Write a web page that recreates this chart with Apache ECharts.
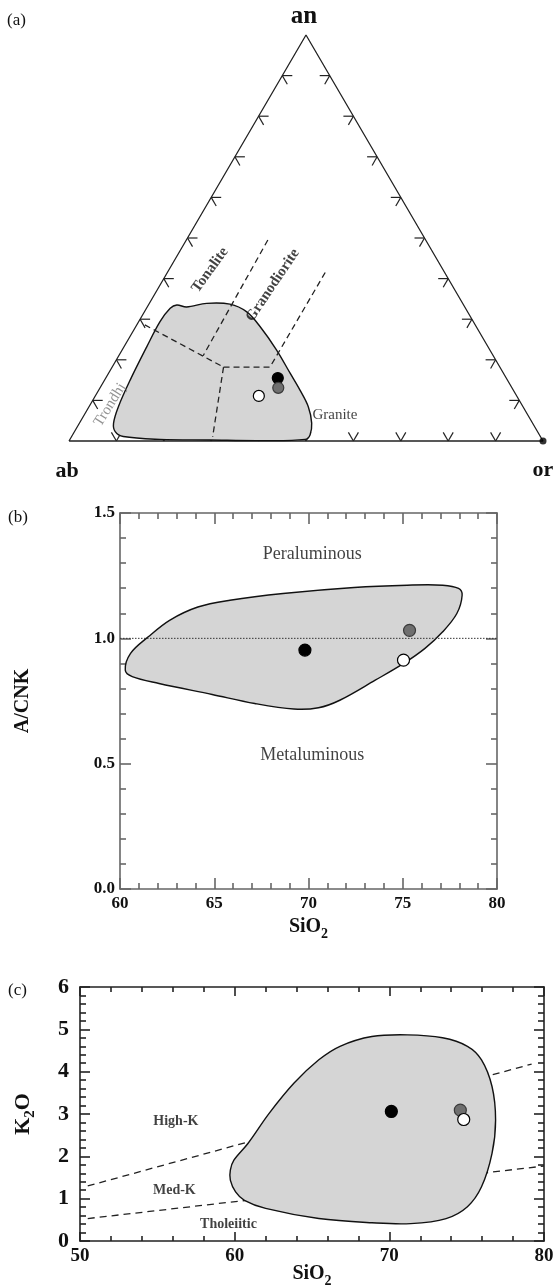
<!DOCTYPE html>
<html>
<head>
<meta charset="utf-8">
<script src="https://cdn.jsdelivr.net/npm/echarts@6/dist/echarts.min.js"></script>
<style>
  html, body { margin: 0; padding: 0; background: #fff; }
  #chart { width: 555px; height: 1285px; }
</style>
</head>
<body>
<div id="chart"></div>
<script>
const SERIF = '"Liberation Serif", "DejaVu Serif", serif';

// ---------- (a) An–Ab–Or ternary, points given as [an, or] in % (ab = 100 - an - or)
const ternaryTicks = [10, 20, 30, 40, 50, 60, 70, 80, 90];
const triangleA = [[0, 0], [0, 100], [100, 0], [0, 0]];
const fieldA = [
  [32.7, 5.0], [33.5, 6.0], [33.0, 8.3], [33.9, 12.1], [33.7, 17.1], [31.8, 21.6],
  [28.2, 26.2], [22.4, 32.6], [16.7, 38.3], [12.6, 42.4], [8.4, 46.3], [4.4, 49.0],
  [1.5, 50.1], [0.4, 49.6], [0.1, 40.3], [0.25, 29.6], [0.4, 19.0], [1.1, 10.9],
  [2.3, 8.6], [4.4, 7.2], [8.4, 6.2], [15.0, 5.4], [23.2, 4.8], [29.4, 4.5]
];
const trondhjemiteLine = [[28.6, 1.7], [18.2, 23.5]];
const tonaliteLine = [[49.5, 17.2], [21.0, 17.8]];
const graniteLine = [[18.2, 23.5], [18.2, 33.3], [42.0, 33.3]];
const lowerLine = [[18.2, 23.5], [1.0, 29.8]];
const samplesA = [[15.5, 36.3], [13.1, 37.6], [11.1, 34.5]];
const orVertex = [[0, 100]];
const fieldLabelsA = [
  { text: 'Tonalite', an: 42.1, or: 8.7, rotate: 54, bold: true },
  { text: 'Granodiorite', an: 38.4, or: 23.8, rotate: 56, bold: true },
  { text: 'Trondhj', an: 8.9, or: 4.2, rotate: 58, bold: false, color: '#777' },
  { text: 'Granite', an: 6.4, or: 52.9, rotate: 0, bold: false }
];

// ---------- (b) A/CNK vs SiO2
const fieldB = [
  [60.28, 0.873], [60.56, 0.94], [61.5, 1.006], [62.63, 1.072], [64.13, 1.125],
  [65.83, 1.152], [68.65, 1.179], [72.42, 1.203], [75.24, 1.212], [77.12, 1.212],
  [77.96, 1.199], [78.15, 1.172], [77.87, 1.099], [77.12, 1.026], [76.18, 0.96],
  [75.05, 0.9], [73.54, 0.833], [71.66, 0.753], [70.53, 0.723], [69.22, 0.718],
  [67.15, 0.74], [64.89, 0.776], [62.07, 0.82], [60.65, 0.847]
];
const aluminaLine = [[60, 1.0], [80, 1.0]];
const samplesB = [[69.81, 0.953], [75.36, 1.032], [75.04, 0.913]];
const regionLabelsB = [['Peraluminous', 70.2, 1.335], ['Metaluminous', 70.2, 0.534]];

// ---------- (c) K2O vs SiO2
const fieldC = [
  [59.72, 1.675], [59.95, 1.91], [60.87, 2.31], [62.24, 3.02], [63.84, 3.73],
  [65.44, 4.28], [66.81, 4.6], [68.87, 4.83], [71.16, 4.87], [73.44, 4.8],
  [75.05, 4.6], [75.96, 4.28], [76.64, 3.65], [76.87, 2.86], [76.64, 2.07],
  [75.96, 1.28], [75.05, 0.81], [73.67, 0.53], [71.38, 0.41], [68.87, 0.43],
  [65.44, 0.53], [62.0, 0.77], [60.63, 0.96], [60.06, 1.16], [59.72, 1.44]
];
const highKLine = [[50.5, 1.3], [79.2, 4.18]];
const tholeiiticLine = [[50.5, 0.53], [80, 1.77]];
const samplesC = [[70.13, 3.06], [74.59, 3.09], [74.81, 2.87]];
const regionLabelsC = [['High-K', 56.2, 2.82], ['Med-K', 56.1, 1.185], ['Tholeiitic', 59.6, 0.396]];

// sample symbols, in drawing order
const sampleFills = ['#000000', '#6f6f6f', '#ffffff'];
const sampleBorders = ['#000000', '#3a3a3a', '#000000'];

// ternary [an, or] -> plane (x along ab–or, y = an)
function tern(p) { return [p[1] + p[0] / 2, p[0]]; }

function fieldSeries(xi, yi, pts, z) {
  return {
    type: 'custom', xAxisIndex: xi, yAxisIndex: yi, silent: true, z: z,
    clip: false, data: [[0, 0]],
    renderItem: (params, api) => ({
      type: 'polygon',
      shape: { points: pts.map(p => api.coord(p)), smooth: 0.35 },
      style: { fill: '#d5d5d5', stroke: '#111', lineWidth: 1.4 }
    })
  };
}

function dashSeries(xi, yi, pts, dash, z) {
  return {
    type: 'line', xAxisIndex: xi, yAxisIndex: yi, data: pts, symbol: 'none',
    silent: true, z: z, clip: false,
    lineStyle: { color: '#222', width: 1.3, type: dash }
  };
}

function sampleSeries(xi, yi, pts, size) {
  return pts.map((p, i) => ({
    type: 'scatter', xAxisIndex: xi, yAxisIndex: yi, data: [p], symbolSize: size,
    silent: true, z: 6 + i,
    itemStyle: { color: sampleFills[i], borderColor: sampleBorders[i], borderWidth: 1.2, opacity: 1 }
  }));
}

function labelSeries(xi, yi, items, size, weight) {
  return {
    type: 'scatter', xAxisIndex: xi, yAxisIndex: yi, symbolSize: 0, silent: true, z: 9,
    data: items.map(it => ({
      value: [it[1], it[2]],
      label: {
        show: true, position: 'inside', formatter: it[0],
        fontFamily: SERIF, fontSize: size, fontWeight: weight, color: '#111'
      }
    }))
  };
}

const tickLine = { color: '#666', width: 1.6 };
const tickLineC = { color: '#222', width: 1.6 };

function frameAxes(grid, min, max, interval, minorSplit, lineStyle, majorLen, minorLen) {
  return {
    gridIndex: grid, min, max, interval,
    axisLine: { show: true, onZero: false, lineStyle },
    axisTick: { show: true, inside: true, length: majorLen, lineStyle },
    minorTick: { show: true, splitNumber: minorSplit, length: minorLen, lineStyle },
    splitLine: { show: false },
    axisLabel: { show: false },
    nameMoveOverlap: false
  };
}

const chart = echarts.init(document.getElementById('chart'), null, { renderer: 'canvas' });

const nameRich = (size) => ({
  s: { fontFamily: SERIF, fontWeight: 'bold', fontSize: Math.round(size * 0.68), verticalAlign: 'bottom', lineHeight: size + 8 }
});

const option = {
  backgroundColor: '#ffffff',
  animation: false,
  grid: [
    { left: 69, top: 35, width: 474, height: 406, outerBoundsMode: 'none' },
    { left: 120, top: 513, width: 377, height: 376, outerBoundsMode: 'none' },
    { left: 80, top: 987, width: 464, height: 254, outerBoundsMode: 'none' }
  ],
  xAxis: [
    { gridIndex: 0, type: 'value', min: 0, max: 100, show: false },
    Object.assign(frameAxes(1, 60, 80, 5, 5, tickLine, 11, 6), {
      position: 'bottom',
      axisLabel: { show: true, margin: 6, fontFamily: SERIF, fontWeight: 'bold', fontSize: 17, color: '#111' },
      name: 'SiO{s|2}', nameLocation: 'middle', nameGap: 24,
      nameTextStyle: { fontFamily: SERIF, fontWeight: 'bold', fontSize: 20, color: '#111', lineHeight: 28, rich: nameRich(20) }
    }),
    Object.assign(frameAxes(1, 60, 80, 5, 5, tickLine, 11, 6), { position: 'top' }),
    Object.assign(frameAxes(2, 50, 80, 10, 5, tickLineC, 9, 5), {
      position: 'bottom',
      axisLabel: { show: true, margin: 6, fontFamily: SERIF, fontWeight: 'bold', fontSize: 19, color: '#111' },
      name: 'SiO{s|2}', nameLocation: 'middle', nameGap: 19,
      nameTextStyle: { fontFamily: SERIF, fontWeight: 'bold', fontSize: 20, color: '#111', lineHeight: 28, rich: nameRich(20) }
    }),
    Object.assign(frameAxes(2, 50, 80, 10, 5, tickLineC, 9, 5), { position: 'top' })
  ],
  yAxis: [
    { gridIndex: 0, type: 'value', min: 0, max: 100, show: false },
    Object.assign(frameAxes(1, 0, 1.5, 0.5, 5, tickLine, 11, 6), {
      position: 'left',
      axisLabel: { show: true, margin: 5, fontFamily: SERIF, fontWeight: 'bold', fontSize: 17, color: '#111',
                   formatter: v => v.toFixed(1) },
      name: 'A/CNK', nameLocation: 'middle', nameRotate: 90, nameGap: 87,
      nameTextStyle: { fontFamily: SERIF, fontWeight: 'bold', fontSize: 20, color: '#111' }
    }),
    Object.assign(frameAxes(1, 0, 1.5, 0.5, 5, tickLine, 11, 6), { position: 'right' }),
    Object.assign(frameAxes(2, 0, 6, 1, 5, tickLineC, 10, 6), {
      position: 'left',
      axisLabel: { show: true, margin: 11, fontFamily: SERIF, fontWeight: 'bold', fontSize: 22, color: '#111' },
      name: 'K{s|2}O', nameLocation: 'middle', nameRotate: 90, nameGap: 42,
      nameTextStyle: { fontFamily: SERIF, fontWeight: 'bold', fontSize: 22, color: '#111', lineHeight: 30, rich: nameRich(22) }
    }),
    Object.assign(frameAxes(2, 0, 6, 1, 5, tickLineC, 10, 6), { position: 'right' })
  ],
  graphic: [
    { type: 'text', left: 7, top: 12, style: { text: '(a)', font: '17px ' + SERIF, fill: '#111' } },
    { type: 'text', left: 8, top: 509, style: { text: '(b)', font: '17px ' + SERIF, fill: '#111' } },
    { type: 'text', left: 8, top: 982, style: { text: '(c)', font: '17px ' + SERIF, fill: '#111' } },
    { type: 'text', x: 304, y: 17, style: { text: 'an', font: 'bold 25px ' + SERIF, fill: '#111', align: 'center', verticalAlign: 'middle' } },
    { type: 'text', x: 67, y: 471, style: { text: 'ab', font: 'bold 22px ' + SERIF, fill: '#111', align: 'center', verticalAlign: 'middle' } },
    { type: 'text', x: 543, y: 470, style: { text: 'or', font: 'bold 22px ' + SERIF, fill: '#111', align: 'center', verticalAlign: 'middle' } }
  ],
  series: [
    // triangle frame
    {
      type: 'line', xAxisIndex: 0, yAxisIndex: 0, data: triangleA.map(tern), symbol: 'none',
      silent: true, z: 2, clip: false, lineStyle: { color: '#222', width: 1.3 }
    },
    // edge ticks: short strokes parallel to the two other edges
    {
      type: 'custom', xAxisIndex: 0, yAxisIndex: 0, silent: true, z: 2, clip: false, data: [[0, 0]],
      renderItem: (params, api) => {
        const L = 10, c = L * Math.cos(Math.PI / 3), s = L * Math.sin(Math.PI / 3);
        const seg = (p, d) => ({
          type: 'line', shape: { x1: p[0], y1: p[1], x2: p[0] + d[0], y2: p[1] + d[1] },
          style: { stroke: '#222', lineWidth: 1.2 }
        });
        const kids = [];
        ternaryTicks.forEach(t => {
          let p = api.coord(tern([0, t]));
          kids.push(seg(p, [-c, -s]), seg(p, [c, -s]));
          p = api.coord(tern([t, 0]));
          kids.push(seg(p, [L, 0]), seg(p, [c, s]));
          p = api.coord(tern([t, 100 - t]));
          kids.push(seg(p, [-L, 0]), seg(p, [-c, s]));
        });
        return { type: 'group', children: kids };
      }
    },
    fieldSeries(0, 0, fieldA.map(tern), 3),
    dashSeries(0, 0, trondhjemiteLine.map(tern), [6, 4], 4),
    dashSeries(0, 0, tonaliteLine.map(tern), [6, 4], 4),
    dashSeries(0, 0, graniteLine.map(tern), [6, 4], 4),
    dashSeries(0, 0, lowerLine.map(tern), [6, 4], 4),
    ...sampleSeries(0, 0, samplesA.map(tern), 11),
    {
      type: 'scatter', xAxisIndex: 0, yAxisIndex: 0, data: orVertex.map(tern), symbolSize: 7,
      silent: true, z: 6, itemStyle: { color: '#000' }
    },
    {
      type: 'scatter', xAxisIndex: 0, yAxisIndex: 0, symbolSize: 0, silent: true, z: 9,
      data: fieldLabelsA.map(l => ({
        value: tern([l.an, l.or]),
        label: {
          show: true, position: 'inside', formatter: l.text, rotate: l.rotate,
          fontFamily: SERIF, fontSize: 15, fontWeight: l.bold ? 'bold' : 'normal', color: l.color || '#111'
        }
      }))
    },

    // (b)
    fieldSeries(1, 1, fieldB, 3),
    {
      type: 'line', xAxisIndex: 1, yAxisIndex: 1, data: aluminaLine, symbol: 'none', silent: true, z: 4,
      lineStyle: { color: '#333', width: 1, type: [1.5, 1.5] }
    },
    ...sampleSeries(1, 1, samplesB, 12),
    labelSeries(1, 1, regionLabelsB, 18, 'normal'),

    // (c) – the field covers the series boundaries
    dashSeries(3, 3, highKLine, [7, 5], 2),
    dashSeries(3, 3, tholeiiticLine, [7, 5], 2),
    fieldSeries(3, 3, fieldC, 3),
    ...sampleSeries(3, 3, samplesC, 12),
    labelSeries(3, 3, regionLabelsC, 14, 'bold')
  ]
};

chart.setOption(option);
</script>
</body>
</html>
